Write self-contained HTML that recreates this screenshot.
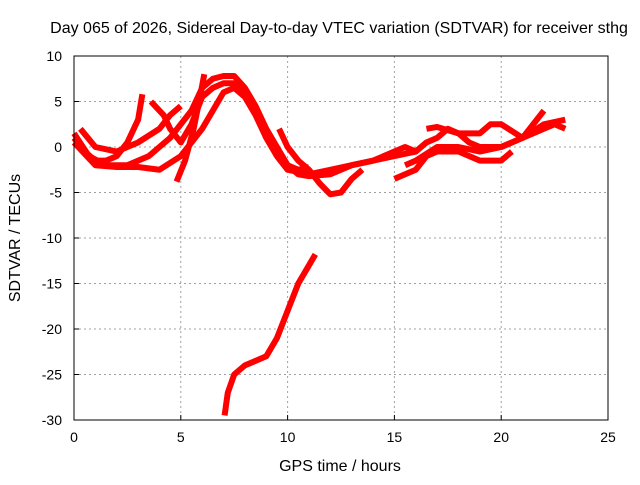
<!DOCTYPE html>
<html><head><meta charset="utf-8"><style>
body{margin:0;background:#fff}
svg text{font-family:"Liberation Sans",sans-serif;font-size:14px;fill:#000}
svg text.big{font-size:16px}
</style></head><body>
<svg id="chart" width="640" height="480" viewBox="0 0 640 480">
<rect width="640" height="480" fill="#fff"/>
<text class="big" x="339" y="33" text-anchor="middle">Day 065 of 2026, Sidereal Day-to-day VTEC variation (SDTVAR) for receiver sthg</text>
<text class="big" x="340" y="471" text-anchor="middle">GPS time / hours</text>
<text class="big" transform="translate(20,238) rotate(-90)" text-anchor="middle">SDTVAR / TECUs</text>
<g id="grid"></g><g id="ticks"></g><g id="series"></g>
<rect x="74" y="56" width="534" height="364" fill="none" stroke="#000" stroke-width="1"/>
</svg>
<script>
const xTicks=[0,5,10,15,20,25];
const yTicks=[10,5,0,-5,-10,-15,-20,-25,-30];
const s1=[[0,1],[0.5,-0.5],[1,-1.5],[1.5,-1.5],[2,-1],[2.5,0.5],[3,3],[3.2,5.8]];
const s2=[[0,1.5],[0.7,-1],[1.5,-2],[2.5,-2],[3.5,-1],[4.5,1],[5.5,4],[6,6.5],[6.5,7.5],[7,7.8],[7.5,7.8],[8,6.5],[8.5,4.5],[9,2],[9.5,0],[10,-2],[10.5,-3],[11,-3.2],[12,-3],[13,-2],[14,-1.5]];
const s3=[[0,0.5],[1,-2],[2,-2.2],[3,-2.2],[4,-2.5],[5,-1],[6,2],[6.5,4],[7,6],[7.5,6.5],[8,5.5],[8.5,3.5],[9,1],[9.5,-1],[10,-2.5],[11,-3],[12,-2.5],[13,-2],[14,-1.5],[15,-1],[16,-0.5]];
const s4=[[3.6,5],[4.2,3.5],[4.5,2],[5,0.5],[5.5,2.5],[6,5.5],[6.5,6.5],[7,7],[7.5,7],[8,6],[8.5,4],[9,1.5],[9.5,-0.5],[10,-2],[10.5,-2.5],[11,-2.2]];
const s5=[[4.8,-3.8],[5.2,-1.5],[5.6,2],[5.9,5.5],[6.1,8]];
const s6=[[9.6,2],[10,0],[10.5,-1.5],[11,-2.5],[11.5,-4],[12,-5.2],[12.5,-5],[13,-3.5],[13.5,-2.5]];
const s7=[[0.3,2],[1,0],[2,-0.5],[3,0.5],[4,2],[4.5,3.5],[5,4.5]];
const s8=[[14,-1.5],[15,-0.5],[15.5,0],[16,-0.5],[16.5,0.5],[17,1],[17.5,2],[18,1.5],[18.5,0.5],[19,0],[20,0],[21,1],[22,2],[22.5,2.5],[23,2]];
const s9=[[16.5,2],[17,2.2],[18,1.5],[19,1.5],[19.5,2.5],[20,2.5],[21,1],[22,2.5],[23,3]];
const s10=[[15,-3.5],[16,-2.5],[16.5,-1],[17,-0.5],[18,-0.5],[19,-1.5],[20,-1.5],[20.5,-0.5]];
const s11=[[15.5,-2],[16,-1.5],[17,0],[18,0],[19,-0.5],[20,0],[21,1],[21.5,2.5],[22,4]];
const s12=[[7.05,-29.5],[7.2,-27],[7.5,-25],[8,-24],[8.5,-23.5],[9,-23],[9.5,-21],[10,-18],[10.5,-15],[11,-13],[11.3,-11.8]];
const allSeries=[s1,s2,s3,s4,s5,s6,s7,s8,s9,s10,s11,s12];
const NS='http://www.w3.org/2000/svg';
const X=v=>74+v*534/25, Y=v=>56+(10-v)*364/40;
const g=document.getElementById('grid'),t=document.getElementById('ticks'),sg=document.getElementById('series');
function mk(tag,a,p){const e=document.createElementNS(NS,tag);for(const k in a)e.setAttribute(k,a[k]);p.appendChild(e);return e;}
xTicks.forEach(v=>{
 if(v>0&&v<25){const l=mk('line',{x1:X(v),x2:X(v),y1:56,y2:420,stroke:'#a0a0a0','stroke-dasharray':'2,3'},g);
 
 }
 mk('line',{x1:X(v),x2:X(v),y1:420,y2:415,stroke:'#000'},t);
 const tx=mk('text',{x:X(v),y:442,'text-anchor':'middle'},t);tx.textContent=v;
 
 
});
yTicks.forEach(v=>{
 if(v<10&&v>-30){const l=mk('line',{x1:74,x2:608,y1:Y(v),y2:Y(v),stroke:'#a0a0a0','stroke-dasharray':'2,3'},g);
 
 }
 mk('line',{x1:74,x2:79,y1:Y(v),y2:Y(v),stroke:'#000'},t);
 const tx=mk('text',{x:62,y:Y(v)+5,'text-anchor':'end'},t);tx.textContent=v;
 
 
});
allSeries.forEach((s,i)=>{
 const p=mk('polyline',{points:s.map(d=>X(d[0])+','+Y(d[1])).join(' '),fill:'none',stroke:'#ff0000','stroke-width':6,'stroke-linejoin':'round'},sg);
 
 
});
</script>
</body></html>
